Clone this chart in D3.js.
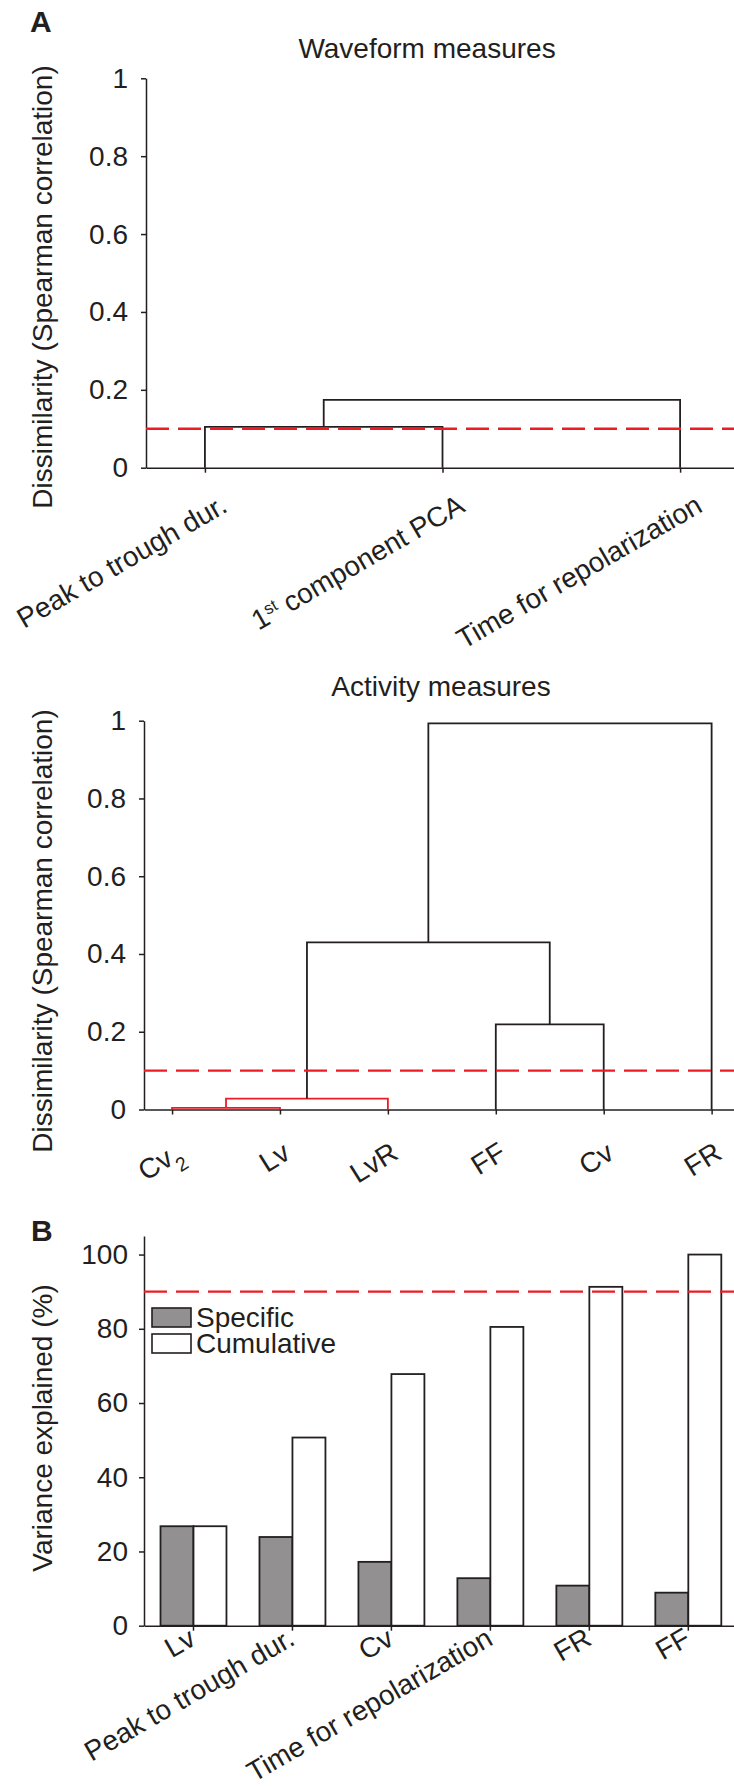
<!DOCTYPE html>
<html>
<head>
<meta charset="utf-8">
<script src="https://cdn.jsdelivr.net/npm/d3@7"></script>
<style>
  body { margin: 0; background: #fff; }
  svg text { fill: #231f20; }
</style>
</head>
<body>
<svg id="fig" width="734" height="1787"></svg>
<script>
// Panel A, waveform measures: leaves and merges [left id, right id, height]
// (ids >= number of leaves point to earlier merges, like a linkage matrix)
var waveLeaves = ["Peak to trough dur.", "1st component PCA", "Time for repolarization"];
var waveMerges = [[0, 1, 0.105], [3, 2, 0.174]];

// Panel A, activity measures
var actLeaves = ["Cv2", "Lv", "LvR", "FF", "Cv", "FR"];
var actMerges = [[0, 1, 0.004], [6, 2, 0.028], [3, 4, 0.219], [7, 8, 0.43], [9, 5, 0.993]];

var dissimTicks = [0, 0.2, 0.4, 0.6, 0.8, 1];
var clusterCut = 0.1;

// Panel B, variance explained
var pcaVars = ["Lv", "Peak to trough dur.", "Cv", "Time for repolarization", "FR", "FF"];
var specific = [26.8, 23.9, 17.2, 12.8, 10.8, 8.9];
var cumulative = [26.8, 50.7, 67.8, 80.5, 91.3, 100];
var varTicks = [0, 20, 40, 60, 80, 100];
var varCut = 90;

var ink = "#231f20",
    red = "#ed1c24",
    font = "'Liberation Sans', Arial, Helvetica, sans-serif";

var svg = d3.select("#fig");

// labels with a superscript ("1st") or a subscript ("Cv2")
function richLabel(sel, label) {
  var m;
  if ((m = label.match(/^(\d)(st)(.*)$/))) {
    sel.append("tspan").text(m[1]);
    sel.append("tspan").attr("baseline-shift", "super").attr("font-size", "60%").text(m[2]);
    sel.append("tspan").text(m[3]);
  } else if ((m = label.match(/^(Cv)(2)$/))) {
    sel.append("tspan").text(m[1]);
    sel.append("tspan").attr("baseline-shift", "sub").attr("font-size", "70%").text(m[2]);
  } else {
    sel.text(label);
  }
}

function styleAxis(ax) {
  ax.attr("color", ink)
    .attr("font-size", 28)
    .attr("font-family", font);
  ax.selectAll("path, line").attr("stroke-width", 1.5);
}

function dendrogram(o) {
  var n = o.leaves.length;
  var g = svg.append("g");

  var x = d3.scaleLinear().domain(o.xDomain).range(o.xRange);
  var y = d3.scaleLinear().domain([0, 1]).range(o.yRange);

  var yAxis = g.append("g")
    .attr("transform", "translate(" + o.xRange[0] + ",0)")
    .call(d3.axisLeft(y)
      .tickValues(dissimTicks)
      .tickFormat(d3.format(""))
      .tickSizeInner(5)
      .tickSizeOuter(0)
      .tickPadding(13));
  styleAxis(yAxis);

  var xAxis = g.append("g")
    .attr("transform", "translate(0," + y(0) + ")")
    .call(d3.axisBottom(x)
      .tickValues(d3.range(n))
      .tickFormat("")
      .tickSizeInner(5)
      .tickSizeOuter(0));
  styleAxis(xAxis);

  // rotated leaf labels
  g.selectAll(".leaf")
    .data(o.leaves)
    .join("text")
    .attr("class", "leaf")
    .attr("font-family", font)
    .attr("font-size", 28)
    .attr("text-anchor", "end")
    .attr("transform", function(d, i) {
      return "translate(" + (x(i) + o.lx) + "," + (y(0) + o.ly) + ") rotate(" + o.rot + ")";
    })
    .each(function(d) { richLabel(d3.select(this), d); });

  // links
  var pos = d3.range(n),
      hgt = d3.range(n).map(function() { return 0; });
  o.merges.forEach(function(m) {
    var a = m[0], b = m[1], h = m[2];
    var p = d3.path();
    p.moveTo(x(pos[a]), y(hgt[a]));
    p.lineTo(x(pos[a]), y(h));
    p.lineTo(x(pos[b]), y(h));
    p.lineTo(x(pos[b]), y(hgt[b]));
    g.append("path")
      .attr("d", p.toString())
      .attr("fill", "none")
      .attr("stroke", h < clusterCut ? red : ink)
      .attr("stroke-width", 1.8);
    pos.push((pos[a] + pos[b]) / 2);
    hgt.push(h);
  });

  // cut-off line
  g.append("line")
    .attr("x1", x.range()[0]).attr("x2", x.range()[1])
    .attr("y1", y(clusterCut)).attr("y2", y(clusterCut))
    .attr("stroke", red)
    .attr("stroke-width", 2.4)
    .attr("stroke-dasharray", "23,9");

  g.append("text")
    .attr("x", o.titleX).attr("y", o.titleY)
    .attr("text-anchor", "middle")
    .attr("font-family", font)
    .attr("font-size", 28)
    .text(o.title);

  g.append("text")
    .attr("transform", "translate(52," + o.labelY + ") rotate(-90)")
    .attr("text-anchor", "middle")
    .attr("font-family", font)
    .attr("font-size", 28)
    .text("Dissimilarity (Spearman correlation)");
}

dendrogram({
  leaves: waveLeaves, merges: waveMerges,
  xDomain: [-0.248, 2.25], xRange: [146, 739.5],
  yRange: [467.7, 78.3],
  lx: 24, ly: 43, rot: -30,
  title: "Waveform measures", titleX: 427, titleY: 58,
  labelY: 287
});

dendrogram({
  leaves: actLeaves, merges: actMerges,
  xDomain: [-0.26, 5.25], xRange: [144, 738.6],
  yRange: [1109.5, 720.7],
  lx: 12, ly: 48, rot: -32,
  title: "Activity measures", titleX: 441, titleY: 696,
  labelY: 931
});

// panel letters
[["A", 30, 32], ["B", 31, 1241]].forEach(function(l) {
  svg.append("text")
    .attr("x", l[1]).attr("y", l[2])
    .attr("font-family", font)
    .attr("font-weight", "bold")
    .attr("font-size", 30)
    .text(l[0]);
});

// Panel B: bars
var gb = svg.append("g");
var xb = d3.scaleBand().domain(pcaVars).range([144, 737.8]);
var yb = d3.scaleLinear().domain([0, 105]).range([1625.7, 1236]);
var bw = xb.bandwidth() / 3;

var yAxisB = gb.append("g")
  .attr("transform", "translate(" + xb.range()[0] + ",0)")
  .call(d3.axisLeft(yb)
    .tickValues(varTicks)
    .tickFormat(d3.format("d"))
    .tickSizeInner(5)
    .tickSizeOuter(0)
    .tickPadding(11));
styleAxis(yAxisB);

var bars = pcaVars.map(function(v, i) {
  return {name: v, specific: specific[i], cumulative: cumulative[i]};
});

gb.selectAll(".spec")
  .data(bars)
  .join("rect")
  .attr("class", "spec")
  .attr("x", function(d) { return xb(d.name) + xb.bandwidth() / 2 - bw; })
  .attr("width", bw)
  .attr("y", function(d) { return yb(d.specific); })
  .attr("height", function(d) { return yb(0) - yb(d.specific); })
  .attr("fill", "#939091")
  .attr("stroke", ink)
  .attr("stroke-width", 1.8);

gb.selectAll(".cum")
  .data(bars)
  .join("rect")
  .attr("class", "cum")
  .attr("x", function(d) { return xb(d.name) + xb.bandwidth() / 2; })
  .attr("width", bw)
  .attr("y", function(d) { return yb(d.cumulative); })
  .attr("height", function(d) { return yb(0) - yb(d.cumulative); })
  .attr("fill", "#fff")
  .attr("stroke", ink)
  .attr("stroke-width", 1.8);

var xAxisB = gb.append("g")
  .attr("transform", "translate(0," + yb(0) + ")")
  .call(d3.axisBottom(xb)
    .tickFormat("")
    .tickSizeInner(5)
    .tickSizeOuter(0));
styleAxis(xAxisB);

gb.selectAll(".cat")
  .data(pcaVars)
  .join("text")
  .attr("class", "cat")
  .attr("font-family", font)
  .attr("font-size", 28)
  .attr("text-anchor", "end")
  .attr("transform", function(d) {
    return "translate(" + (xb(d) + xb.bandwidth() / 2 + 4) + "," + (yb(0) + 18) + ") rotate(-30)";
  })
  .text(function(d) { return d; });

gb.append("line")
  .attr("x1", xb.range()[0]).attr("x2", xb.range()[1])
  .attr("y1", yb(varCut)).attr("y2", yb(varCut))
  .attr("stroke", red)
  .attr("stroke-width", 2.4)
  .attr("stroke-dasharray", "23,9");

gb.append("text")
  .attr("transform", "translate(52,1428) rotate(-90)")
  .attr("text-anchor", "middle")
  .attr("font-family", font)
  .attr("font-size", 28)
  .text("Variance explained (%)");

// legend
var legend = [["Specific", "#939091"], ["Cumulative", "#fff"]];
var lg = gb.selectAll(".lg")
  .data(legend)
  .join("g")
  .attr("class", "lg")
  .attr("transform", function(d, i) { return "translate(152," + (1308 + i * 26) + ")"; });
lg.append("rect")
  .attr("width", 39).attr("height", 19)
  .attr("fill", function(d) { return d[1]; })
  .attr("stroke", ink)
  .attr("stroke-width", 1.6);
lg.append("text")
  .attr("x", 44).attr("y", 19)
  .attr("font-family", font)
  .attr("font-size", 28)
  .text(function(d) { return d[0]; });
</script>
</body>
</html>
